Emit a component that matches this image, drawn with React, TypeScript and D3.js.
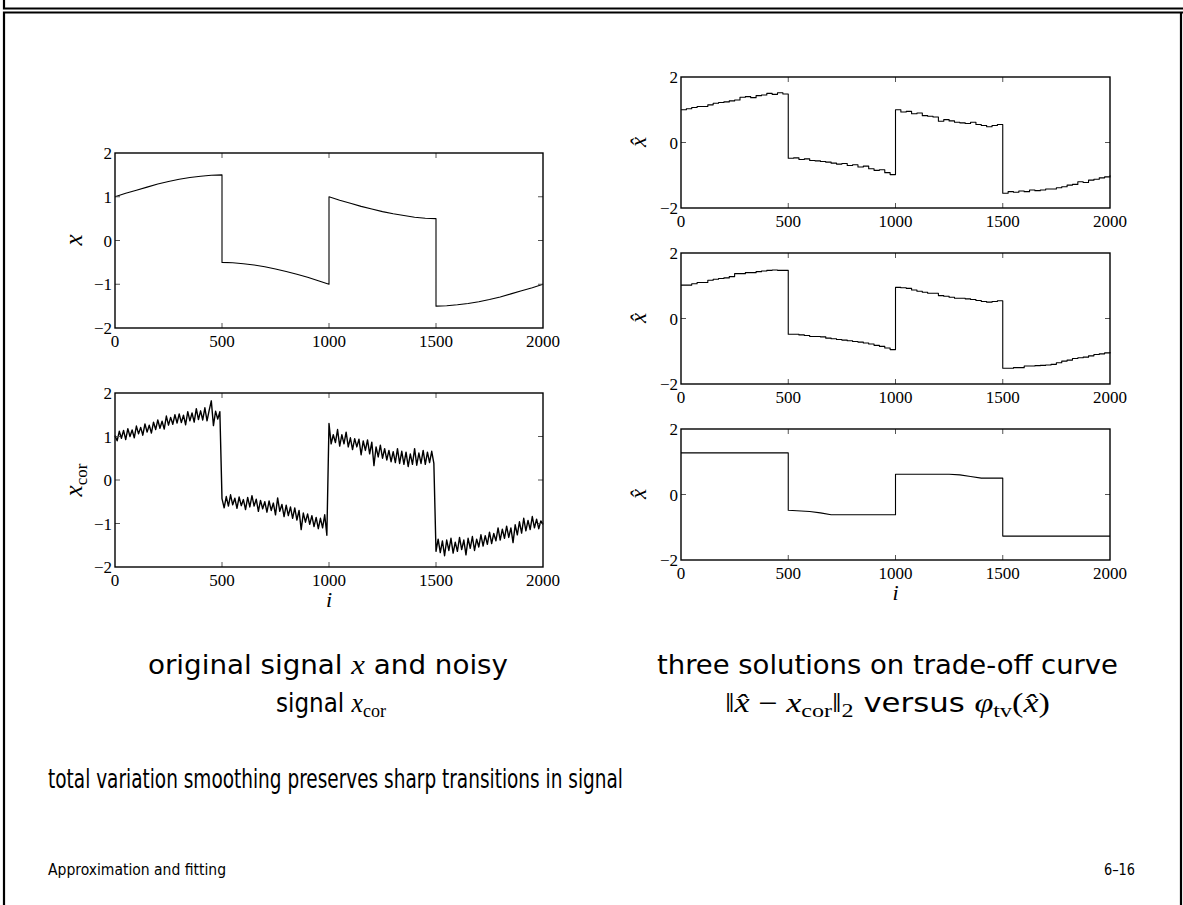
import React from 'react'
import * as d3 from 'd3'

const xTickVals = [0, 500, 1000, 1500, 2000]

// original signal x, read every 50 samples, one list per piece
const xOrigSeg1 = [1.00, 1.08, 1.15, 1.22, 1.29, 1.35, 1.40, 1.44, 1.47, 1.49, 1.50]
const xOrigSeg2 = [-0.50, -0.51, -0.53, -0.56, -0.60, -0.65, -0.71, -0.77, -0.84, -0.92, -1.00]
const xOrigSeg3 = [1.00, 0.92, 0.85, 0.78, 0.72, 0.66, 0.61, 0.57, 0.53, 0.51, 0.50]
const xOrigSeg4 = [-1.50, -1.49, -1.47, -1.44, -1.40, -1.35, -1.29, -1.22, -1.15, -1.08, -1.00]

// noisy signal x_cor, read every 10 samples
const xCorSeg1 = [1.02, 0.90, 1.12, 0.96, 1.14, 0.93, 1.18, 1.00, 1.15, 0.97,
  1.24, 1.06, 1.21, 1.03, 1.29, 1.10, 1.26, 1.08, 1.33, 1.16,
  1.38, 1.19, 1.35, 1.17, 1.47, 1.26, 1.44, 1.28, 1.50, 1.31,
  1.52, 1.32, 1.49, 1.27, 1.57, 1.36, 1.54, 1.33, 1.64, 1.39,
  1.59, 1.38, 1.66, 1.36, 1.60, 1.82, 1.25, 1.58, 1.40, 1.57]
const xCorSeg2 = [-0.43, -0.64, -0.38, -0.60, -0.34, -0.57, -0.42, -0.65, -0.39, -0.59,
  -0.45, -0.68, -0.40, -0.62, -0.36, -0.60, -0.44, -0.72, -0.47, -0.66,
  -0.50, -0.74, -0.48, -0.70, -0.53, -0.80, -0.41, -0.72, -0.56, -0.84,
  -0.58, -0.82, -0.62, -0.88, -0.64, -0.92, -0.70, -1.14, -0.76, -0.97,
  -0.78, -1.02, -0.82, -1.07, -0.86, -1.12, -0.88, -1.10, -0.80, -1.27]
const xCorSeg3 = [1.30, 0.83, 1.04, 0.86, 1.16, 0.78, 1.04, 0.83, 1.10, 0.76,
  0.97, 0.70, 0.95, 0.76, 0.94, 0.58, 0.90, 0.68, 0.92, 0.60,
  0.87, 0.33, 0.76, 0.53, 0.80, 0.50, 0.72, 0.46, 0.68, 0.42,
  0.65, 0.40, 0.72, 0.38, 0.66, 0.36, 0.64, 0.31, 0.60, 0.36,
  0.72, 0.34, 0.62, 0.38, 0.68, 0.36, 0.64, 0.40, 0.66, 0.38]
const xCorSeg4 = [-1.64, -1.36, -1.67, -1.40, -1.74, -1.38, -1.62, -1.34, -1.68, -1.43,
  -1.64, -1.32, -1.60, -1.38, -1.72, -1.34, -1.57, -1.30, -1.62, -1.36,
  -1.54, -1.26, -1.52, -1.28, -1.48, -1.20, -1.46, -1.23, -1.40, -1.10,
  -1.38, -1.13, -1.34, -1.06, -1.32, -1.10, -1.44, -1.03, -1.26, -0.96,
  -1.22, -0.88, -1.17, -0.93, -1.14, -0.84, -1.10, -0.90, -1.12, -0.94, -1.02]

// TV solution, small weight (every 25 samples, step plot)
const xHatA = [1.00, 1.03, 1.07, 1.10, 1.10, 1.15, 1.20, 1.22, 1.24, 1.27, 1.30, 1.38, 1.40, 1.37, 1.43, 1.45, 1.50, 1.47, 1.52, 1.48,
  -0.48, -0.47, -0.52, -0.50, -0.55, -0.56, -0.58, -0.60, -0.63, -0.66, -0.64, -0.70, -0.68, -0.75, -0.72, -0.80, -0.85, -0.83, -0.92, -0.98,
  1.00, 0.93, 0.95, 0.88, 0.90, 0.82, 0.80, 0.78, 0.65, 0.70, 0.66, 0.62, 0.60, 0.58, 0.62, 0.55, 0.52, 0.48, 0.52, 0.55,
  -1.55, -1.50, -1.52, -1.48, -1.50, -1.45, -1.47, -1.45, -1.42, -1.42, -1.38, -1.35, -1.30, -1.28, -1.20, -1.22, -1.15, -1.12, -1.08, -1.05, -1.00]

// TV solution, medium weight
const xHatB = [1.02, 1.02, 1.06, 1.10, 1.10, 1.17, 1.20, 1.22, 1.24, 1.28, 1.37, 1.37, 1.40, 1.40, 1.43, 1.45, 1.47, 1.48, 1.47, 1.47,
  -0.48, -0.48, -0.50, -0.52, -0.55, -0.55, -0.56, -0.60, -0.62, -0.64, -0.66, -0.68, -0.70, -0.72, -0.75, -0.78, -0.82, -0.85, -0.90, -0.95,
  0.95, 0.94, 0.92, 0.87, 0.83, 0.80, 0.77, 0.77, 0.70, 0.68, 0.65, 0.62, 0.62, 0.60, 0.58, 0.55, 0.52, 0.50, 0.52, 0.54,
  -1.52, -1.52, -1.50, -1.50, -1.45, -1.45, -1.44, -1.43, -1.42, -1.40, -1.35, -1.30, -1.27, -1.22, -1.20, -1.18, -1.14, -1.10, -1.08, -1.05, -1.02]

// TV solution, large weight (breakpoints)
const xHatCIdx = [0, 500, 500, 600, 650, 700, 1000, 1000, 1250, 1300, 1350, 1400, 1500, 1500, 2000]
const xHatCVal = [1.27, 1.27, -0.48, -0.52, -0.56, -0.62, -0.62, 0.62, 0.62, 0.60, 0.55, 0.50, 0.50, -1.27, -1.27]

type Pt = [number, number]

const seg = (vals: number[], start: number, step: number): Pt[] => vals.map((v, k) => [start + k * step, v])

const origPts: Pt[] = [
  ...seg(xOrigSeg1, 0, 50), ...seg(xOrigSeg2, 500, 50),
  ...seg(xOrigSeg3, 1000, 50), ...seg(xOrigSeg4, 1500, 50),
]
const corPts: Pt[] = [
  ...seg(xCorSeg1, 0, 10), ...seg(xCorSeg2, 500, 10),
  ...seg(xCorSeg3, 1000, 10), ...seg(xCorSeg4, 1500, 10),
]
const hatAPts: Pt[] = seg(xHatA, 0, 25)
const hatBPts: Pt[] = seg(xHatB, 0, 25)
const hatCPts: Pt[] = xHatCIdx.map((i, k) => [i, xHatCVal[k]])

const fmt = (v: number) => (v < 0 ? '\u2212' + Math.abs(v) : String(v))
const serif = '"Liberation Serif", "DejaVu Serif", serif'
const sans = '"DejaVu Sans Condensed", "DejaVu Sans", sans-serif'

interface PanelProps {
  left: number; top: number; width: number; height: number
  pts: Pt[]; curve: d3.CurveFactory; lw?: number
  yLabels: number[]; yTicks: number[]
  ylabel: React.ReactNode; showI?: boolean
}

function Panel({ left, top, width, height, pts, curve, lw = 1.1, yLabels, yTicks, ylabel, showI }: PanelProps) {
  const x = d3.scaleLinear().domain([0, 2000]).range([left, left + width])
  const y = d3.scaleLinear().domain([-2, 2]).range([top + height, top])
  const line = d3.line<Pt>().x(d => x(d[0])).y(d => y(d[1])).curve(curve)
  const tl = 5
  return (
    <g>
      <path d={line(pts) || ''} fill="none" stroke="#000" strokeWidth={lw} strokeLinejoin="round" />
      {xTickVals.slice(1, -1).map(t => (
        <g key={'xt' + t} stroke="#555" strokeWidth={1}>
          <line x1={x(t)} x2={x(t)} y1={top} y2={top + tl} />
          <line x1={x(t)} x2={x(t)} y1={top + height} y2={top + height - tl} />
        </g>
      ))}
      {yTicks.map(t => (
        <g key={'yt' + t} stroke="#555" strokeWidth={1}>
          <line x1={left} x2={left + tl} y1={y(t)} y2={y(t)} />
          <line x1={left + width} x2={left + width - tl} y1={y(t)} y2={y(t)} />
        </g>
      ))}
      <rect x={left} y={top} width={width} height={height} fill="none" stroke="#000" strokeWidth={1.4} />
      {xTickVals.map(t => (
        <text key={'xl' + t} x={x(t)} y={top + height + 19} textAnchor="middle"
          fontFamily={serif} fontSize={17} fill="#000">{t}</text>
      ))}
      {yLabels.map(t => (
        <text key={'yl' + t} x={left - 3} y={y(t) + 6} textAnchor="end"
          fontFamily={serif} fontSize={17} fill="#000">{fmt(t)}</text>
      ))}
      {ylabel}
      {showI && (
        <text x={x(1000)} y={top + height + 40} textAnchor="middle" fontFamily={serif}
          fontStyle="italic" fontSize={22} fill="#000">i</text>
      )}
    </g>
  )
}

const hatLabel = (cx: number, cy: number) => (
  <text transform={`translate(${cx},${cy}) rotate(-90)`} textAnchor="middle" fontFamily={serif}
    fontStyle="italic" fontSize={23} fill="#000">x&#770;</text>
)

export default function App() {
  const W = 1183, H = 905
  return (
    <svg width={W} height={H} style={{ position: 'absolute', left: 0, top: 0, background: '#fff' }}>
      <rect width={W} height={H} fill="#fff" />
      {/* slide frame */}
      <g stroke="#000" strokeWidth={2.2} fill="none">
        <path d={`M4,0 V8.5 H${W}`} />
        <path d={`M${W},12.5 H4 V${H}`} />
        <line x1={1181} x2={1181} y1={12.5} y2={H} />
      </g>

      <Panel left={115} top={153} width={428} height={175} pts={origPts} curve={d3.curveLinear}
        yLabels={[-2, -1, 0, 1, 2]} yTicks={[-1, 0, 1]}
        ylabel={<text transform="translate(82,240) rotate(-90)" textAnchor="middle" fontFamily={serif}
          fontStyle="italic" fontSize={25} fill="#000">x</text>} />
      <Panel left={115} top={393} width={428} height={174} pts={corPts} curve={d3.curveLinear} lw={1.4}
        yLabels={[-2, -1, 0, 1, 2]} yTicks={[-1, 0, 1]} showI
        ylabel={<text transform="translate(82,480) rotate(-90)" textAnchor="middle" fill="#000">
          <tspan fontFamily={serif} fontStyle="italic" fontSize={25}>x</tspan>
          <tspan fontFamily={serif} fontSize={17} dy={5}>cor</tspan>
        </text>} />

      <Panel left={681} top={77} width={429} height={131} pts={hatAPts} curve={d3.curveStepAfter}
        yLabels={[-2, 0, 2]} yTicks={[0]} ylabel={hatLabel(646, 142)} />
      <Panel left={681} top={253} width={429} height={131} pts={hatBPts} curve={d3.curveStepAfter}
        yLabels={[-2, 0, 2]} yTicks={[0]} ylabel={hatLabel(646, 318)} />
      <Panel left={681} top={429} width={429} height={131} pts={hatCPts} curve={d3.curveLinear}
        yLabels={[-2, 0, 2]} yTicks={[0]} ylabel={hatLabel(646, 494)} showI />

      {/* captions */}
      <g fill="#000" fontSize={27}>
        <text x={148} y={674} textLength={360} lengthAdjust="spacingAndGlyphs" fontFamily={sans}>
          original signal <tspan fontFamily={serif} fontStyle="italic">x</tspan> and noisy
        </text>
        <text x={276} y={712} textLength={110} lengthAdjust="spacingAndGlyphs" fontFamily={sans}>
          signal <tspan fontFamily={serif} fontStyle="italic">x</tspan>
          <tspan fontFamily={serif} fontSize={19} dy={5}>cor</tspan>
        </text>
        <text x={657} y={674} textLength={461} lengthAdjust="spacingAndGlyphs" fontFamily={sans}>
          three solutions on trade-off curve
        </text>
        <text x={725} y={712} textLength={325} lengthAdjust="spacingAndGlyphs" fontFamily={sans}>
          <tspan fontFamily={serif}>‖</tspan>
          <tspan fontFamily={serif} fontStyle="italic">x&#770;</tspan>
          <tspan fontFamily={serif}> − </tspan>
          <tspan fontFamily={serif} fontStyle="italic">x</tspan>
          <tspan fontFamily={serif} fontSize={19} dy={5}>cor</tspan>
          <tspan fontFamily={serif} dy={-5}>‖</tspan>
          <tspan fontFamily={serif} fontSize={19} dy={5}>2</tspan>
          <tspan dy={-5}> versus </tspan>
          <tspan fontFamily={serif} fontStyle="italic">φ</tspan>
          <tspan fontFamily={serif} fontSize={19} dy={5}>tv</tspan>
          <tspan fontFamily={serif} dy={-5}>(</tspan>
          <tspan fontFamily={serif} fontStyle="italic">x&#770;</tspan>
          <tspan fontFamily={serif}>)</tspan>
        </text>
        <text x={48} y={788} textLength={575} lengthAdjust="spacingAndGlyphs" fontFamily={sans}>
          total variation smoothing preserves sharp transitions in signal
        </text>
      </g>
      <text x={48} y={875} fontFamily={sans} fontSize={16} textLength={178} lengthAdjust="spacingAndGlyphs">
        Approximation and fitting
      </text>
      <text x={1135} y={875} textAnchor="end" fontFamily={sans} fontSize={16} textLength={31}
        lengthAdjust="spacingAndGlyphs">6–16</text>
    </svg>
  )
}
